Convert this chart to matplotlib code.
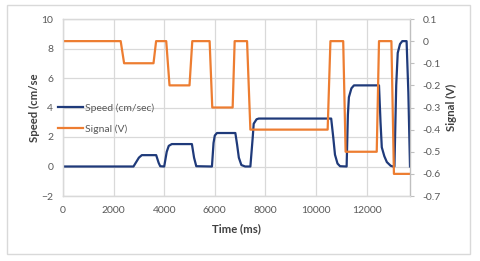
import matplotlib
matplotlib.use("Agg")
import matplotlib.pyplot as plt
from matplotlib.patches import Rectangle
from matplotlib.ticker import FuncFormatter

plt.rcParams['font.family'] = ['Lato', 'DejaVu Sans']

# Speed (cm/sec) trace
speed_t = [0, 2785, 3000, 3115, 3683, 3780, 3842, 4000, 4100, 4180, 4300, 5095, 5180, 5267,
           5887, 5950, 6000, 6085, 6812, 6880, 6950, 7050, 7200, 7406, 7500, 7537, 7650, 7735,
           10600, 10680, 10750, 10850, 10950, 11210, 11260, 11300, 11400, 11500, 12490, 12550,
           12600, 12700, 12800, 12950, 13050, 13100, 13170, 13230, 13320, 13410, 13580, 13650, 13715]
speed_v = [0, 0, 0.6, 0.77, 0.77, 0.25, 0.02, 0, 1.0, 1.4, 1.52, 1.52, 0.6, 0.02,
           0, 1.6, 2.1, 2.27, 2.27, 1.5, 0.6, 0.1, 0, 0, 2.0, 2.9, 3.2, 3.25,
           3.25, 2.0, 0.8, 0.2, 0.02, 0, 3.5, 4.7, 5.3, 5.5, 5.5, 3.0,
           1.3, 0.7, 0.3, 0.05, 0, 0, 5.5, 7.7, 8.3, 8.5, 8.5, 5.0, 0]

# Signal (V) trace
signal_t = [0, 2280, 2415, 3577, 3680, 4080, 4210, 5000, 5110, 5795, 5900, 6705, 6785, 7275,
            7406, 10460, 10570, 11075, 11170, 12400, 12490, 12980, 13080, 13715]
signal_v = [0, 0, -0.1, -0.1, 0, 0, -0.2, -0.2, 0, 0, -0.3, -0.3, 0, 0,
            -0.4, -0.4, 0, 0, -0.5, -0.5, 0, 0, -0.6, -0.6]

x_ticks = [0, 2000, 4000, 6000, 8000, 10000, 12000]
left_ticks = [-2, 0, 2, 4, 6, 8, 10]
right_ticks = [-0.7, -0.6, -0.5, -0.4, -0.3, -0.2, -0.1, 0, 0.1]

W, H = 480, 261
fig = plt.figure(figsize=(W / 100, H / 100), dpi=100)
fig.patches.append(Rectangle((7 / W, 1 - 254 / H), 463 / W, 249 / H, transform=fig.transFigure,
                             fill=False, edgecolor='#d9d9d9', linewidth=1.0))

ax = fig.add_axes([63 / W, 1 - 196 / H, 347 / W, 177 / H])
ax2 = ax.twinx()

grid_c = '#d9d9d9'
tick_c = '#595959'
fs = 7.5

l1, = ax.plot(speed_t, speed_v, color='#1f3a7a', linewidth=1.6, label='Speed (cm/sec)', zorder=3)
l2, = ax2.plot(signal_t, signal_v, color='#ed7d31', linewidth=1.6, label='Signal (V)', zorder=2)

ax.set_xlim(0, 13715)
ax.set_ylim(-2, 10)
ax2.set_ylim(-0.7, 0.1)
ax.set_xticks(x_ticks)
ax.set_yticks(left_ticks)
ax2.set_yticks(right_ticks)
ax2.yaxis.set_major_formatter(FuncFormatter(lambda v, p: ('%g' % round(v, 1)).replace('\u2212', '-')))

ax.grid(True, color=grid_c, linewidth=0.9)
ax.set_axisbelow(True)
for a in (ax, ax2):
    for s in a.spines.values():
        s.set_color(grid_c)
        s.set_linewidth(0.9)
ax2.spines['right'].set_color('#bfbfbf')

ax.tick_params(axis='both', length=0, labelsize=fs, labelcolor=tick_c, pad=7)
ax2.tick_params(axis='y', length=3, color='#bfbfbf', labelsize=fs, labelcolor=tick_c, pad=6)

lab_kw = dict(fontsize=fs + 0.7, fontweight='bold', color='#404040')
ax.set_xlabel('Time (ms)', labelpad=6, **lab_kw)
ax.set_ylabel('Speed (cm/se', labelpad=1, **lab_kw)
ax2.set_ylabel('Signal (V)', rotation=90, labelpad=4, **lab_kw)

ax2.legend([l1, l2], ['Speed (cm/sec)', 'Signal (V)'], loc='upper left',
           bbox_to_anchor=(53 / W, 1 - 98 / H), bbox_transform=fig.transFigure,
           frameon=False, fontsize=fs, borderpad=0, handlelength=2.4, handletextpad=0.15,
           labelspacing=1.1, labelcolor=tick_c)

fig.savefig('out.png', dpi=100)
